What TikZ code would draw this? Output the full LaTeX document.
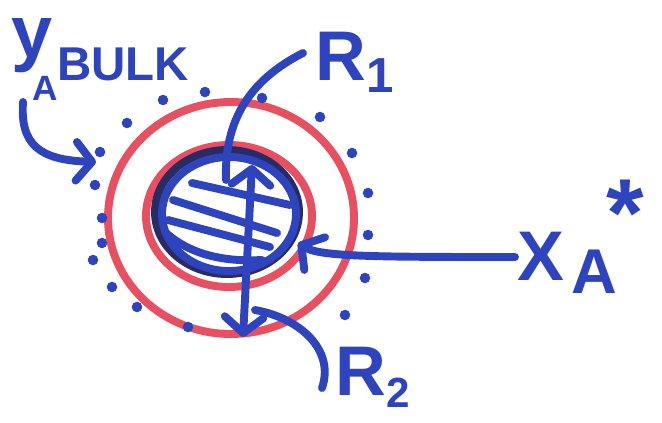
\documentclass[tikz,border=0pt]{standalone}
\usepackage{fontspec}
\setmainfont{Liberation Sans}
\usetikzlibrary{arrows.meta}
\definecolor{penblue}{RGB}{46,68,190}
\definecolor{penred}{RGB}{232,80,98}
\definecolor{pennavy}{RGB}{40,44,100}
\tikzset{
  marker/.style={line width=4.5pt, line cap=round, line join=round},
  bluepen/.style={marker, draw=penblue},
  redpen/.style={marker, draw=penred},
  navypen/.style={marker, draw=pennavy},
  barb/.tip={Straight Barb[length=9pt, width=22pt, round]},
  hand/.style={text=penblue, inner sep=0pt, font=\bfseries\fontsize{#1}{#1}\selectfont},
}
\begin{document}
\begin{tikzpicture}[x=0.2mm, y=-0.2mm]
  \useasboundingbox (0,0) rectangle (662,422);

  % shell: outer and inner red rings
  \draw[redpen] (231,218) ellipse [x radius=123, y radius=116];
  \draw[redpen] (229,216) ellipse [x radius=83, y radius=71];

  % bulk dots round the shell
  \foreach \p in {(127,123),(163,100),(205,92),(262,98),(320,117),(352,153),
                  (368,193),(368,235),(365,278),(345,315),(100,152),(95,185),
                  (102,218),(102,243),(93,260),(112,287),(137,307),(188,327)}
    \fill[penblue] \p circle (3pt);

  % core particle
  \draw[navypen] (227,212) ellipse [x radius=72, y radius=62];
  \draw[bluepen] (229,214) ellipse [x radius=67, y radius=57];

  % hatching of the core
  \draw[bluepen] (192,183) -- (290,205);
  \draw[bluepen] (173,200) -- (277,233);
  \draw[bluepen] (168,220) -- (270,247);
  \draw[bluepen] (165,232) .. controls (190,255) and (225,262) .. (262,260);

  % labels
  \node[hand=42, anchor=base] (ylabel) at (32,57) {y};
  \node[hand=27, anchor=base west] (bulk) at (57,80) {BULK};
  \node[hand=20, anchor=base] (ysub) at (45,100) {A};
  \node[hand=40, anchor=base] (rone) at (341,80) {R};
  \node[hand=28, anchor=base] (roneidx) at (380,92) {1};
  \node[hand=40, anchor=base] (rtwo) at (361,395) {R};
  \node[hand=24, anchor=base] (rtwoidx) at (398,407) {2};
  \node[hand=40, anchor=base] (xa) at (541,280) {X};
  \node[hand=36, anchor=base] (xasub) at (594,293) {A};
  \node[hand=55, anchor=base] (xastar) at (625,246) {*};

  % arrow ends
  \coordinate (ytail) at (23,102);
  \coordinate (ytip) at (96,162);
  \coordinate (ronetail) at (303,53);
  \coordinate (roneend) at (226,180);
  \coordinate (radtop) at (252,165);
  \coordinate (radbot) at (243,337);
  \coordinate (rtwotail) at (255,310);
  \coordinate (rtwoend) at (322,388);
  \coordinate (xtail) at (515,257);
  \coordinate (xtip) at (298,243);

  % connectors
  \draw[bluepen, -barb] (ytail) .. controls (20,145) and (40,160) .. (ytip);
  \draw[bluepen] (ronetail) .. controls (250,80) and (224,120) .. (roneend);
  \draw[bluepen, barb-barb] (radtop) -- (radbot);
  \draw[bluepen] (rtwotail) .. controls (300,318) and (335,350) .. (rtwoend);
  \draw[bluepen, -barb] (xtail) .. controls (380,257) and (320,257) .. (xtip);
\end{tikzpicture}
\end{document}
